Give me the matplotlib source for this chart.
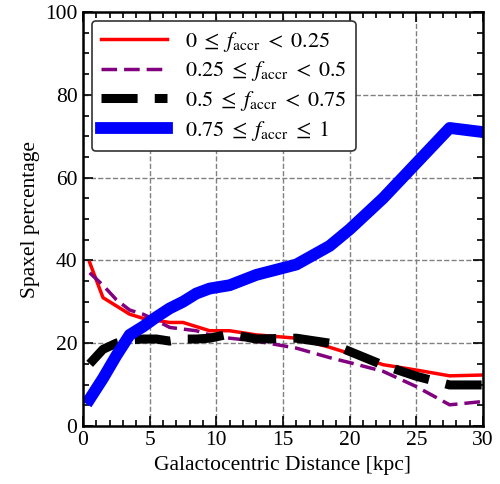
import matplotlib
matplotlib.use("Agg")
import matplotlib.pyplot as plt
import numpy as np

plt.rcParams['font.family'] = ['Liberation Serif', 'DejaVu Serif']
plt.rcParams['mathtext.fontset'] = 'stix'

# distance bins [kpc]
dist = [0.5, 1.5, 2.5, 3.5, 4.5, 5.5, 6.5, 7.5, 8.5, 9.5, 11, 13, 16, 18.5, 20, 22.5, 25, 27.5, 30]

# spaxel percentage per f_accr range
low = [39.5, 31, 29, 27, 26, 25.5, 25, 25, 24, 23, 23, 22, 21.2, 19, 17.5, 14.8, 13.5, 12.1, 12.3]
midlow = [37, 34, 30.5, 28, 27, 25.5, 23.8, 23.4, 23, 22, 21.2, 20.5, 18.8, 16.5, 15.3, 13.2, 9.5, 5.1, 5.9]
midhigh = [15, 18.5, 20, 20.8, 21, 21, 20.5, 21, 21, 21.2, 22.2, 21, 21.2, 20, 18, 14.7, 12, 9.9, 9.9]
high = [6.5, 11.5, 17, 22, 24, 26.3, 28.4, 30, 32, 33.2, 34, 36.5, 39, 43.5, 47.5, 55, 63.5, 72, 71]

labels = [r'$0\;\leq\;f_{\rm accr}\;<\;0.25$',
          r'$0.25\;\leq\;f_{\rm accr}\;<\;0.5$',
          r'$0.5\;\leq\;f_{\rm accr}\;<\;0.75$',
          r'$0.75\;\leq\;f_{\rm accr}\;\leq\;1$']

fig = plt.figure(figsize=(5, 4.84), dpi=100)
ax = fig.add_axes([0.166, 0.12, 0.8, 0.855])

ax.plot(dist, low, color='red', lw=2.5, label=labels[0])
ax.plot(dist, midlow, color='purple', lw=2.5, dashes=(4.5, 2), label=labels[1])
ax.plot(dist, midhigh, color='black', lw=6.5, dashes=(4, 1.9), label=labels[2])
ax.plot(dist, high, color='blue', lw=8.5, label=labels[3])

ax.set_xlim(0, 30)
ax.set_ylim(0, 100)
ax.set_xticks([0, 5, 10, 15, 20, 25, 30])
ax.set_yticks([0, 20, 40, 60, 80, 100])
ax.set_xticks(np.arange(0, 31, 1), minor=True)
ax.set_yticks(np.arange(0, 101, 5), minor=True)
ax.tick_params(which='both', direction='in', top=True, right=True, labelsize=15.5, width=1.2)
ax.tick_params(which='major', length=7, pad=4)
ax.tick_params(which='minor', length=4)
for s in ax.spines.values():
    s.set_linewidth(1.8)
ax.grid(True, which='major', color='gray', linestyle='--', lw=1)

ax.set_xlabel('Galactocentric Distance [kpc]', fontsize=15.5)
ax.set_ylabel('Spaxel percentage', fontsize=15.5)

leg = ax.legend(loc='upper left', fontsize=16, frameon=True, fancybox=True,
                borderaxespad=0.4, handlelength=3.0, labelspacing=0.25, framealpha=1,
                handletextpad=0.8, borderpad=0.4)
leg.get_frame().set_edgecolor('#333333')
leg.get_frame().set_linewidth(1.2)

fig.savefig('out.png', dpi=100)
